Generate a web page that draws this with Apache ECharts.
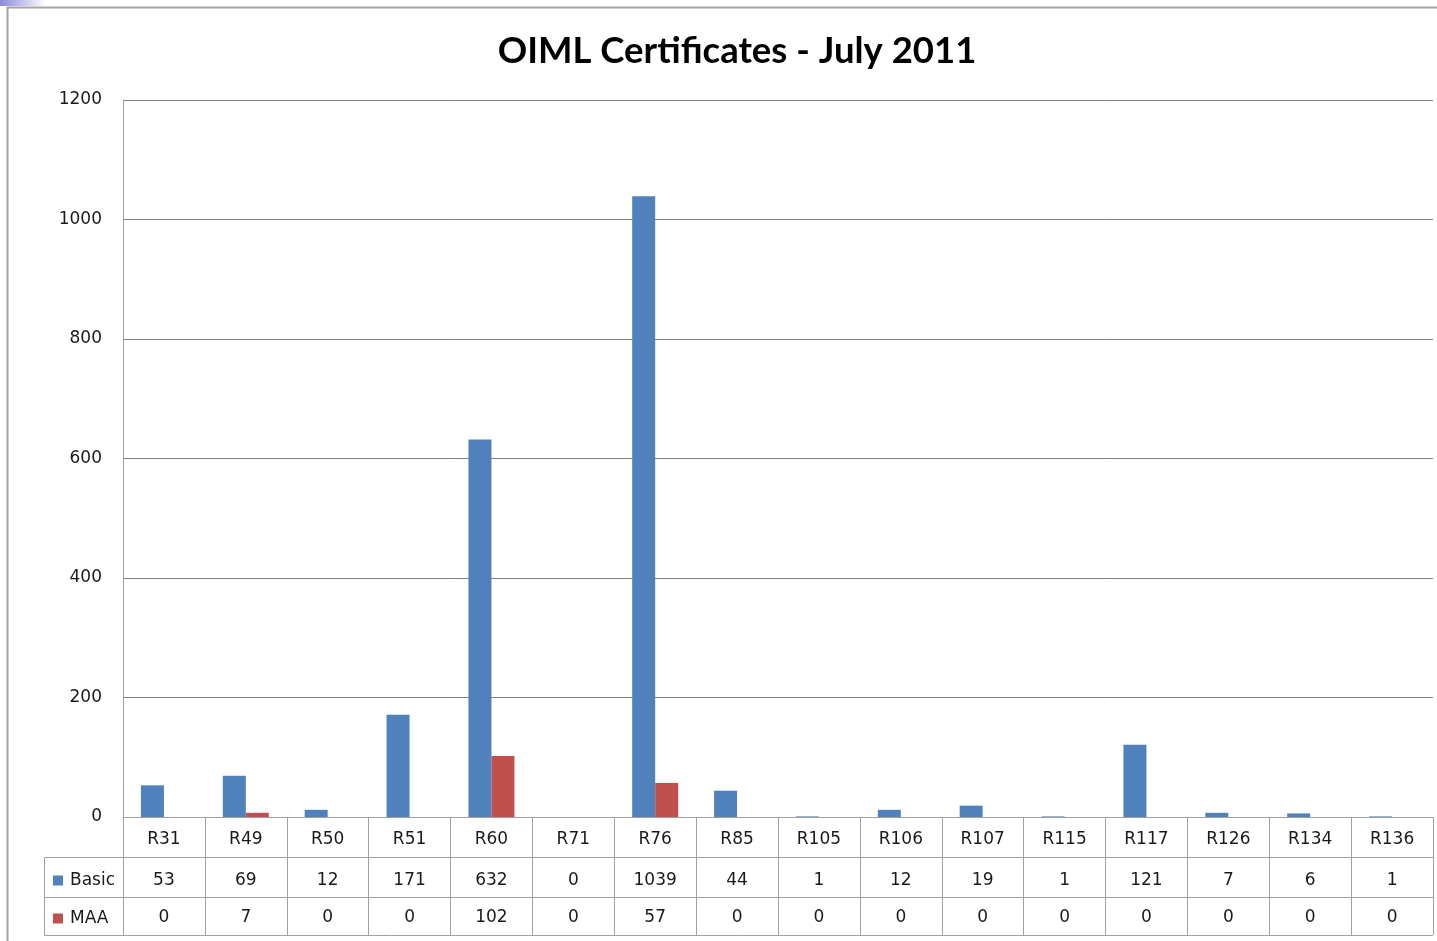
<!DOCTYPE html>
<html lang="en">
<head>
    <meta charset="UTF-8">
    <title>OIML Certificates - July 2011</title>
    <script type="text/javascript" src="https://cdn.jsdelivr.net/npm/echarts@6.0.0/dist/echarts.min.js"></script>
    <style>
        html, body { margin: 0; padding: 0; background: #fff; }
    </style>
</head>
<body>
    <div id="main" style="width: 1437px; height: 941px"></div>
    <script>
        var categories = ['R31', 'R49', 'R50', 'R51', 'R60', 'R71', 'R76', 'R85', 'R105', 'R106', 'R107', 'R115', 'R117', 'R126', 'R134', 'R136'];
        var basic = [53, 69, 12, 171, 632, 0, 1039, 44, 1, 12, 19, 1, 121, 7, 6, 1];
        var maa = [0, 7, 0, 0, 102, 0, 57, 0, 0, 0, 0, 0, 0, 0, 0, 0];
        var yTicks = [0, 200, 400, 600, 800, 1000, 1200];

        var lineColor = '#a0a0a0';
        var font = 'DejaVu Sans';
        var textColor = '#1a1a1a';

        var myChart = echarts.init(document.getElementById('main'));

        function tableRow(offset, margin, values) {
            return {
                type: 'category',
                data: categories,
                position: 'bottom',
                offset: offset,
                axisLine: { show: true, lineStyle: { color: lineColor, width: 1 } },
                axisTick: { show: false },
                axisLabel: {
                    interval: 0,
                    margin: margin,
                    fontFamily: font,
                    fontSize: 17,
                    color: textColor,
                    formatter: function (v, i) { return String(values[i]); }
                },
                splitLine: { show: false }
            };
        }

        myChart.setOption({
            animation: false,
            title: {
                text: 'OIML Certificates - July 2011',
                left: 732,
                top: 28,
                textAlign: 'center',
                textStyle: {
                    fontFamily: 'Lato',
                    fontWeight: 'bold',
                    fontSize: 36.5,
                    color: '#000'
                }
            },
            legend: {
                orient: 'vertical',
                left: 48,
                top: 867,
                itemWidth: 10,
                itemHeight: 10,
                itemGap: 21,
                icon: 'rect',
                textStyle: {
                    fontFamily: font,
                    fontSize: 17,
                    color: textColor,
                    lineHeight: 17,
                    padding: [0, 0, 0, 2]
                },
                data: ['Basic', 'MAA']
            },
            grid: {
                left: 123,
                right: 4,
                top: 100,
                bottom: 124,
                containLabel: false
            },
            xAxis: [
                {
                    type: 'category',
                    data: categories,
                    position: 'bottom',
                    axisLine: { show: true, lineStyle: { color: lineColor, width: 1 } },
                    axisTick: { show: true, length: 118, lineStyle: { color: lineColor } },
                    axisLabel: {
                        interval: 0,
                        margin: 14,
                        fontFamily: font,
                        fontSize: 17,
                        color: textColor
                    }
                },
                tableRow(40, 15, basic),
                tableRow(80, 12, maa)
            ],
            yAxis: {
                type: 'value',
                min: yTicks[0],
                max: yTicks[yTicks.length - 1],
                interval: 200,
                axisLine: { show: true, lineStyle: { color: lineColor } },
                axisTick: { show: false },
                axisLabel: {
                    margin: 21,
                    fontFamily: font,
                    fontSize: 17,
                    color: textColor,
                    padding: [5, 0, 0, 0],
                    formatter: function (v) { return String(v); }
                },
                splitLine: { show: true, lineStyle: { color: '#7f7f7f', width: 1 } }
            },
            series: [
                {
                    name: 'Basic',
                    type: 'bar',
                    data: basic,
                    barWidth: 23,
                    barGap: '0%',
                    itemStyle: { color: '#4f81bd' }
                },
                {
                    name: 'MAA',
                    type: 'bar',
                    data: maa,
                    barWidth: 23,
                    itemStyle: { color: '#c0504d' }
                }
            ],
            graphic: [
                {
                    type: 'rect',
                    shape: { x: 0, y: 0, width: 46, height: 6 },
                    style: {
                        fill: new echarts.graphic.LinearGradient(0, 0, 1, 0, [
                            { offset: 0, color: '#8c8cdc' },
                            { offset: 1, color: '#ffffff' }
                        ])
                    },
                    silent: true
                },
                {
                    type: 'rect',
                    shape: { x: 7.5, y: 7.5, width: 1500, height: 1000 },
                    style: { fill: 'none', stroke: '#a6a6a6', lineWidth: 2 },
                    silent: true
                },
                {
                    type: 'polyline',
                    shape: { points: [[123, 857.5], [44.5, 857.5], [44.5, 935.5], [1433, 935.5]] },
                    style: { fill: 'none', stroke: lineColor, lineWidth: 1 },
                    silent: true
                },
                {
                    type: 'line',
                    shape: { x1: 44.5, y1: 897.5, x2: 123, y2: 897.5 },
                    style: { stroke: lineColor, lineWidth: 1 },
                    silent: true
                }
            ]
        });
    </script>
</body>
</html>
